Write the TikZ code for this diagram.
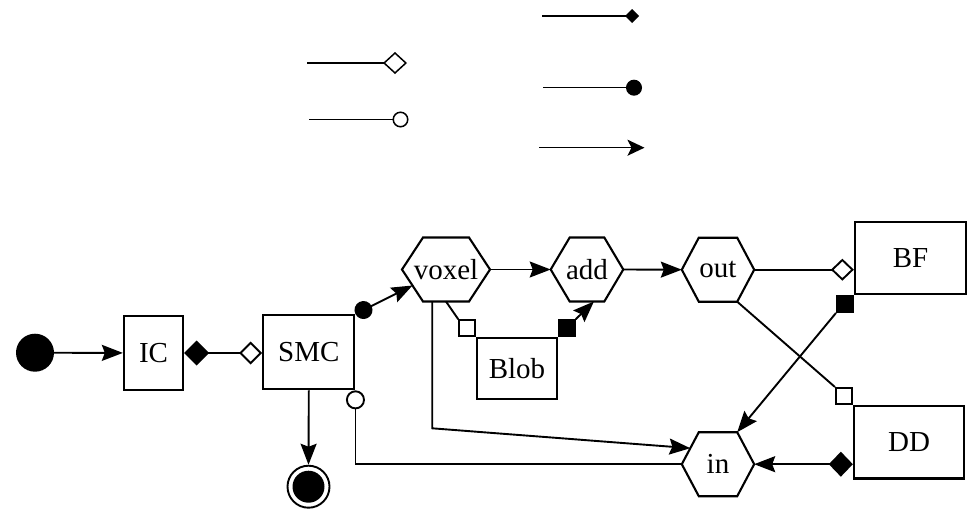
\documentclass[tikz,border=0pt]{standalone}
\usepackage{fontspec}
\setmainfont{Liberation Serif}
\usetikzlibrary{arrows.meta,calc}
\newcommand\hexa[6]{% name, cx, cy, half width, inset, text
  \node[txt] (#1) at (#2,#3) {#6};
  \coordinate (#1-w) at ({#2-#4},#3);
  \coordinate (#1-e) at ({#2+#4},#3);
  \coordinate (#1-nw) at ({#2-#4+#5},{#3-32});
  \coordinate (#1-ne) at ({#2+#4-#5},{#3-32});
  \coordinate (#1-sw) at ({#2-#4+#5},{#3+32});
  \coordinate (#1-se) at ({#2+#4-#5},{#3+32});
  \draw[hexline] (#1-w) -- (#1-nw) -- (#1-ne) -- (#1-e) -- (#1-se) -- (#1-sw) -- cycle;
}
\begin{document}
\begin{tikzpicture}[x=1pt,y=-1pt,
  txt/.style={font=\fontsize{29}{32}\selectfont,inner sep=0pt},
  box/.style={draw,line width=2.3pt,inner sep=0pt,font=\fontsize{29}{32}\selectfont},
  con/.style={line width=1.9pt},
  tipa/.tip={Stealth[length=21pt,width=16pt,inset=3pt]},
  arr/.style={con,-tipa},
  hexline/.style={line width=2.1pt,line join=miter},
  lg/.style={line width=1.5pt},
  sq/.style={draw,line width=1.9pt,minimum size=16pt,inner sep=0pt}
]
\useasboundingbox (0,0) rectangle (970,512);

% legend
\coordinate (l1a) at (542,16);   \coordinate (l1b) at (639,16);
\draw[lg,-{Diamond[length=14pt,width=14pt]}] (l1a) -- (l1b);
\coordinate (l2a) at (307,63);   \coordinate (l2b) at (407,63);
\draw[lg,-{Diamond[open,length=24pt,width=22pt]}] (l2a) -- (l2b);
\coordinate (l3a) at (309,119.5); \coordinate (l3b) at (408.5,119.5);
\draw[lg,-{Circle[open,length=16pt]}] (l3a) -- (l3b);
\coordinate (l4a) at (543,87.7); \coordinate (l4b) at (642,87.7);
\draw[lg,-{Circle[length=16pt]}] (l4a) -- (l4b);
\coordinate (l5a) at (539,147.7); \coordinate (l5b) at (644.5,147.7);
\draw[lg,-{Stealth[length=17pt,width=16pt,inset=4pt]}] (l5a) -- (l5b);

% nodes
\node[circle,fill,minimum size=38pt,inner sep=0pt] (start) at (35,352.7) {};
\node[box,minimum width=59pt,minimum height=74pt] (IC) at (153.5,353) {IC};
\node[box,minimum width=91pt,minimum height=74pt] (SMC) at (308.8,352.2) {SMC};
\node[box,minimum width=79.4pt,minimum height=61pt] (Blob) at (517,368.8) {Blob};
\node[box,minimum width=111pt,minimum height=72.3pt] (BF) at (910.5,257.8) {BF};
\node[box,minimum width=110pt,minimum height=72.3pt] (DD) at (909,442.2) {DD};
\node[circle,draw,line width=1.9pt,minimum size=42pt,inner sep=0pt] (final) at (308.5,486.7) {};
\fill (final.center) circle[radius=16pt];

\hexa{voxel}{446}{269.5}{44}{21}{voxel}
\hexa{add}{587}{269.5}{36.3}{19}{add}
\hexa{out}{718}{269.7}{36.2}{17}{out}
\hexa{in}{718}{464.2}{36.2}{17}{in}

% connectors
\draw[arr] (start) -- (IC);
\draw[con,{Diamond[length=25pt,width=25pt]}-{Diamond[open,length=23pt,width=23pt]}] (IC.east) -- (IC.east -| SMC.west);

\coordinate (vxin) at ($(voxel-w)!0.5!(voxel-sw)$);
\draw[con,{Circle[length=18pt]}-tipa] (SMC.north east) -- (vxin);

\draw[arr] (voxel-e) -- (add-w);
\draw[arr] (add-e) -- (out-w);

\node[sq,fill=white,anchor=south east] (bsq1) at (Blob.north west) {};
\coordinate (vxs) at ($(voxel-sw)!0.5!(voxel-se)$);
\draw[con] (vxs) -- (bsq1.north west);

\node[sq,fill=black,anchor=south west] (bsq2) at (Blob.north east) {};
\coordinate (addb) at ($(add-sw)!0.7!(add-se)$);
\draw[arr] (bsq2.north east) -- (addb);

\coordinate (vxb) at ($(voxel-sw)!0.2!(voxel-se)$);
\coordinate (vxk) at (432.2,428.3);
\coordinate (inul) at ($(in-w)!0.5!(in-nw)$);
\draw[arr] (vxb) -- (vxk) -- (inul);

\draw[con,{Circle[fill=white,length=19pt]}-] (SMC.south east) |- (in-w);
\draw[arr] (SMC.south) -- (final.north);

\draw[con,-{Diamond[open,length=23pt,width=22pt]}] (out-e) -- (out-e -| BF.west);

\node[sq,fill=black,anchor=north east] (bfsq) at (BF.south west) {};
\draw[arr] (bfsq.south west) -- (in-ne);

\node[sq,fill=white,anchor=south east] (ddsq) at (DD.north west) {};
\draw[con] (out-se) -- (ddsq.north west);

\draw[con,{Diamond[length=24pt,width=25pt]}-tipa] (in-e -| DD.west) -- (in-e);
\end{tikzpicture}
\end{document}
